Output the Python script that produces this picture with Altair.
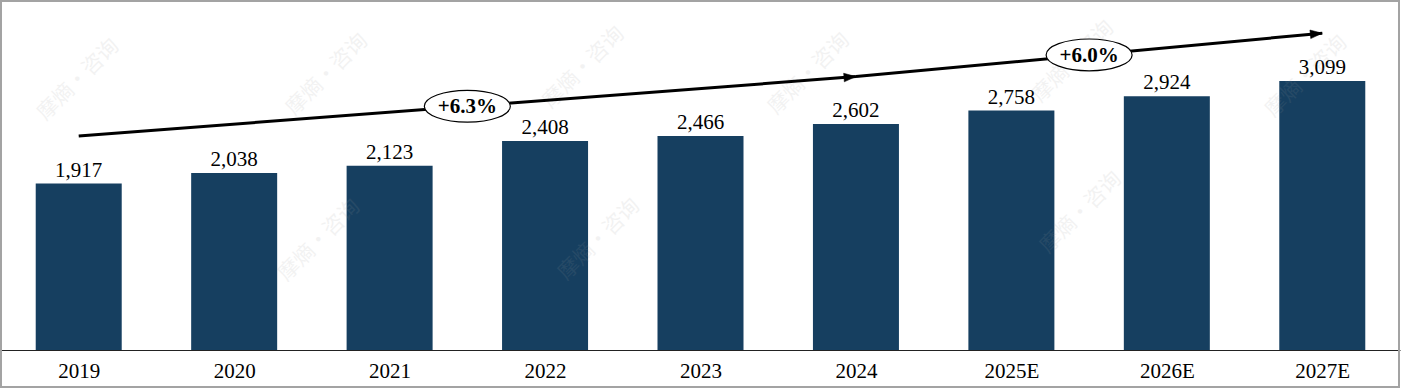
import math
import altair as alt
import pandas as pd

# ---- data ----
years = ["2019", "2020", "2021", "2022", "2023", "2024", "2025E", "2026E", "2027E"]
values = [1917, 2038, 2123, 2408, 2466, 2602, 2758, 2924, 3099]

# CAGR arrows (x in bar index units, y in value units)
arrow_ids = ["a", "a", "b", "b"]
arrow_x = [0.0, 5.0, 5.0, 8.0]
arrow_y = [2465, 3149, 3149, 3649]
cagr_labels = ["+6.3%", "+6.0%"]

# faint watermark positions (bar index units, value units)
wm_text = "摩熵·咨询"
wm_x = [0.0, 1.6, 3.25, 4.7, 6.4, 7.9, 1.55, 3.35, 6.45]
wm_y = [3110, 3170, 3250, 3180, 3320, 3150, 1260, 1270, 1580]

# ---- layout constants ----
W, H = 1399, 349
Y_MAX = 4020
FONT = "Liberation Serif"
BAR = "#163F60"
BAR_W = 86

bars_df = pd.DataFrame({"i": list(range(len(years))), "year": years, "value": values})
arrows_df = pd.DataFrame({"id": arrow_ids, "i": arrow_x, "v": arrow_y})
wm_df = pd.DataFrame({"i": wm_x, "v": wm_y, "t": [wm_text] * len(wm_x)})

# arrow heads and ellipse labels derived from the arrow segments
px_per_i = W / 9.0
px_per_v = H / Y_MAX
heads, labels = [], []
for k, seg in enumerate(["a", "b"]):
    d = arrows_df[arrows_df.id == seg].reset_index(drop=True)
    x0, y0, x1, y1 = d.i[0], d.v[0], d.i[1], d.v[1]
    ang = math.degrees(math.atan2(-(y1 - y0) * px_per_v, (x1 - x0) * px_per_i)) % 360
    heads.append({"i": x1, "v": y1, "ang": ang})
    labels.append({"i": (x0 + x1) / 2, "v": (y0 + y1) / 2, "t": cagr_labels[k]})
heads_df = pd.DataFrame(heads)
labels_df = pd.DataFrame(labels)

yscale = alt.Scale(domain=[0, Y_MAX], nice=False, zero=True)
xq = alt.Scale(domain=[-0.5, 8.5], nice=False, zero=False, padding=0)
label_expr = "[" + ",".join("'%s'" % y for y in years) + "][datum.value]"

base = alt.Chart(bars_df)
bars = base.mark_bar(color=BAR, width=BAR_W).encode(
    x=alt.X("i:Q", scale=xq,
            axis=alt.Axis(title=None, values=list(range(len(years))), labelExpr=label_expr,
                          labelAngle=0, labelFont=FONT, labelFontSize=21,
                          labelColor="black", ticks=False, domainColor="#222222",
                          domainWidth=1.2, labelPadding=10, grid=False, labelFlush=False,
                          labelOverlap=False)),
    y=alt.Y("value:Q", scale=yscale, axis=None),
)
vals = base.mark_text(font=FONT, fontSize=21, color="black", baseline="alphabetic", dy=-7).encode(
    x=alt.X("i:Q", scale=xq), y=alt.Y("value:Q", scale=yscale),
    text=alt.Text("value:Q", format=","),
)

watermarks = alt.Chart(wm_df).mark_text(
    font="Noto Sans CJK SC", fontSize=21, color="#9A9A9A", opacity=0.12, angle=315,
).encode(
    x=alt.X("i:Q", scale=xq),
    y=alt.Y("v:Q", scale=yscale),
    text="t:N",
)

lines = alt.Chart(arrows_df).mark_line(color="black", strokeWidth=3).encode(
    x=alt.X("i:Q", scale=xq),
    y=alt.Y("v:Q", scale=yscale),
    detail="id:N",
)
arrowhead = alt.Chart(heads_df).mark_point(
    shape="M 0 0 L -2 -0.72 L -2 0.72 Z", filled=True, fill="black", stroke="black",
    strokeWidth=0.5, size=144, opacity=1,
).encode(
    x=alt.X("i:Q", scale=xq),
    y=alt.Y("v:Q", scale=yscale),
    angle=alt.Angle("ang:Q", scale=None),
)
ellipses = alt.Chart(labels_df).mark_point(
    shape="M -1 0 A 1 0.37 0 1 1 1 0 A 1 0.37 0 1 1 -1 0 Z", filled=True, fill="white",
    stroke="black", strokeWidth=1.2, size=7396, opacity=1,
).encode(
    x=alt.X("i:Q", scale=xq),
    y=alt.Y("v:Q", scale=yscale),
)
cagr = alt.Chart(labels_df).mark_text(
    font=FONT, fontSize=21, fontWeight="bold", color="black", baseline="middle", dy=1,
).encode(
    x=alt.X("i:Q", scale=xq),
    y=alt.Y("v:Q", scale=yscale),
    text="t:N",
)

border = alt.Chart(pd.DataFrame({"k": [0]})).mark_rect(
    fill=None, stroke="#A3A3A3", strokeWidth=2,
).encode(x=alt.value(0), x2=alt.value(W - 1), y=alt.value(0), y2=alt.value(386))

chart = alt.layer(bars, vals, watermarks, lines, arrowhead, ellipses, cagr, border).properties(
    width=W, height=H,
    autosize=alt.AutoSizeParams(type="none"),
    padding={"left": 1, "top": 1, "right": 1, "bottom": 39},
    background="white",
).configure_view(stroke=None)

chart.save("out.html", embed_options={"renderer": "svg", "actions": False})
